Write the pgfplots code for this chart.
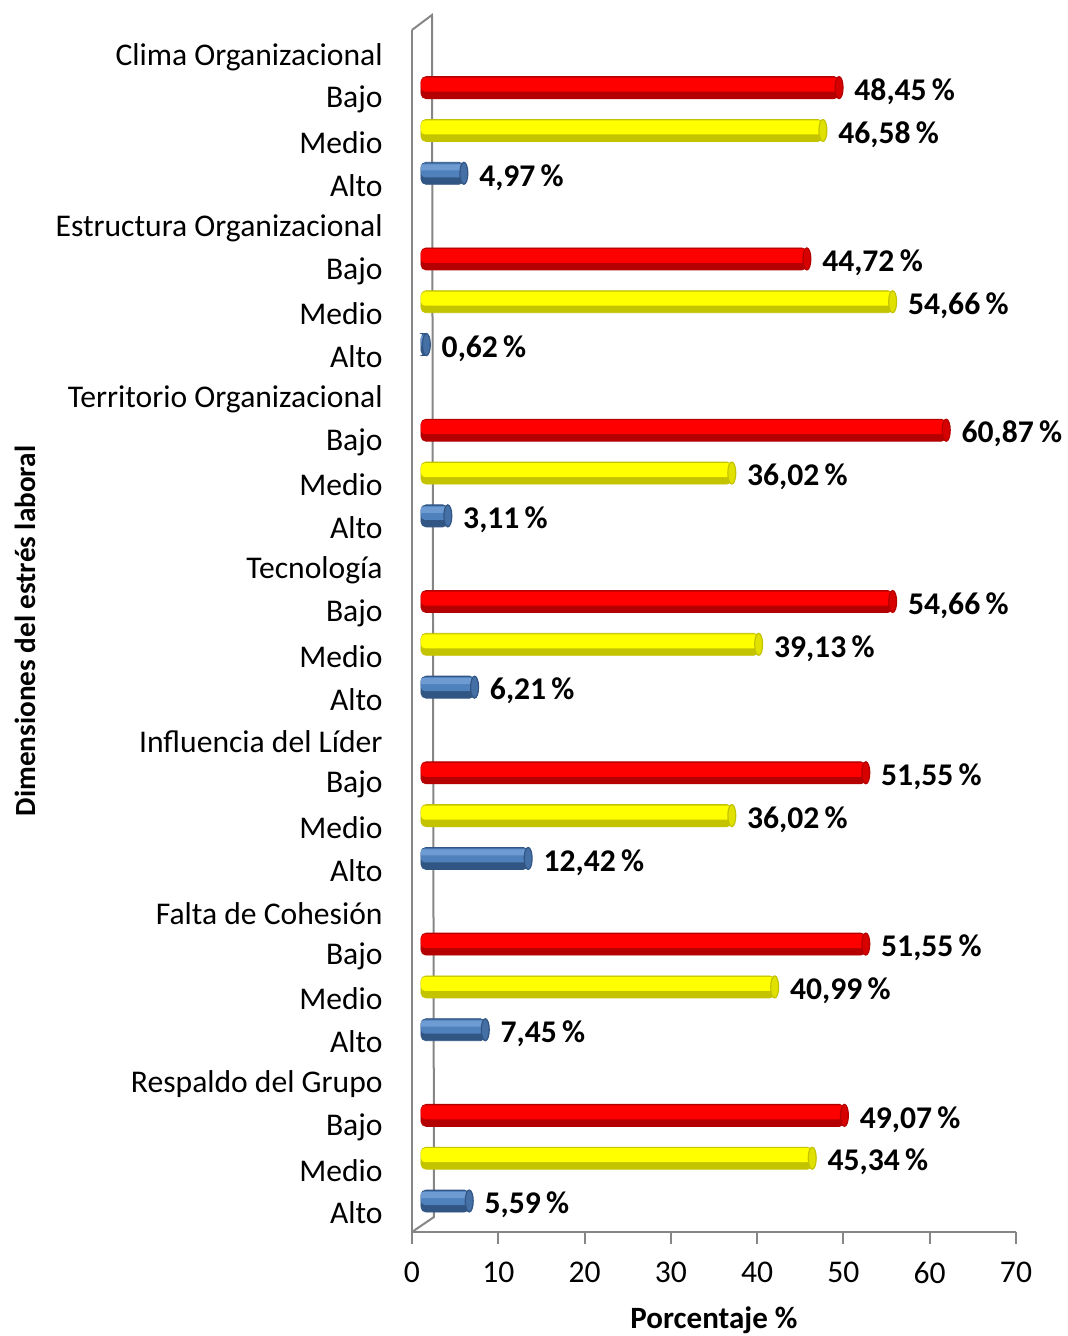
\documentclass[border=0pt]{standalone}
\usepackage{fontspec}
\setmainfont{Carlito}
\usepackage{pgfplots}
\pgfplotsset{compat=1.18}
\usetikzlibrary{calc}

\definecolor{axgray}{RGB}{134,134,134}
\definecolor{redmid}{RGB}{255,0,0}
\definecolor{redbot}{RGB}{180,0,0}
\definecolor{redcap}{RGB}{215,0,0}
\definecolor{yelmid}{RGB}{255,255,0}
\definecolor{yelbot}{RGB}{195,195,0}
\definecolor{yelcap}{RGB}{225,225,0}
\definecolor{blutop}{RGB}{110,156,210}
\definecolor{blumid}{RGB}{79,129,189}
\definecolor{blubot}{RGB}{50,86,132}
\definecolor{blucap}{RGB}{68,112,166}

\newcommand{\lblfont}{\fontsize{15.8}{18}\selectfont}

\pgfplotsset{
  cyl/.style={xbar, bar width=11pt, bar shift=0pt, xshift=4.5pt, yshift=5pt, rounded corners=2.5pt},
  cylmid/.style={xbar, bar width=7pt, bar shift=1.5pt, xshift=4.5pt, yshift=5pt, rounded corners=2pt, draw=none},
  cyltop/.style={xbar, bar width=3pt, bar shift=3pt, xshift=4.5pt, yshift=5pt, draw=none},
  cap/.style 2 args={only marks, mark=*, mark size=5.5pt, xshift=4.5pt, yshift=5pt,
              mark options={xscale=0.36, line width=0.6pt, fill=#1, draw=#2}},
  labels/.style={nodes near coords={\pgfmathprintnumber[fixed, fixed zerofill, precision=2, use comma]{\pgfplotspointmeta}\,\%}},
}

\begin{document}
\begin{tikzpicture}
\begin{axis}[
  name=ax,
  scale only axis,
  width=302pt, height=601pt,
  xmin=0, xmax=70,
  ymin=0.51, ymax=28.58,
  axis x line*=bottom, axis y line*=left,
  axis line style={axgray, line width=1pt},
  tick align=outside,
  major tick length=6pt,
  xtick={0,10,...,70},
  xtick style={axgray, line width=1pt},
  ytick={1,...,28},
  ytick style={draw=none},
  yticklabels={Alto, Medio, Bajo, Respaldo del Grupo,
               Alto, Medio, Bajo, Falta de Cohesión,
               Alto, Medio, Bajo, Influencia del Líder,
               Alto, Medio, Bajo, Tecnología,
               Alto, Medio, Bajo, Territorio Organizacional,
               Alto, Medio, Bajo, Estructura Organizacional,
               Alto, Medio, Bajo, Clima Organizacional},
  /pgf/number format/assume math mode=true,
  ticklabel style={font=\lblfont, text=black},
  yticklabel style={inner sep=0pt, xshift=-8.5pt, yshift=-1pt},
  xticklabel style={inner sep=0pt, yshift=-9pt},
  xlabel={Porcentaje \%},
  ylabel={Dimensiones del estrés laboral},
  every axis x label/.style={at={(axis description cs:0.5,0)}, anchor=center, yshift=-44pt, font=\fontsize{15.5}{18}\selectfont\bfseries},
  every axis y label/.style={at={(axis description cs:0,0.5)}, anchor=center, xshift=-193.5pt, rotate=90, font=\fontsize{14.6}{17}\selectfont\bfseries},
  every node near coord/.append style={anchor=west, inner sep=0pt, xshift=7.5pt, yshift=-2pt, font=\lblfont\bfseries, text=black},
  clip=false,
]
% back wall of the 3D frame, behind the bars
\draw[axgray, line width=1pt] (rel axis cs:0,1) -- ++(10pt,7.5pt)
  -- ([shift={(11pt,7.5pt)}]rel axis cs:0,0) -- (rel axis cs:0,0);
% Bajo
\addplot[cyl, labels, draw=redbot, fill=redbot]
  coordinates {(48.45,27) (44.72,23) (60.87,19) (54.66,15) (51.55,11) (51.55,7) (49.07,3)};
\addplot[cylmid, fill=redmid]
  coordinates {(48.45,27) (44.72,23) (60.87,19) (54.66,15) (51.55,11) (51.55,7) (49.07,3)};
\addplot[cap={redcap}{redbot}]
  coordinates {(48.45,27) (44.72,23) (60.87,19) (54.66,15) (51.55,11) (51.55,7) (49.07,3)};
% Medio
\addplot[cyl, labels, draw=yelbot, fill=yelbot]
  coordinates {(46.58,26) (54.66,22) (36.02,18) (39.13,14) (36.02,10) (40.99,6) (45.34,2)};
\addplot[cylmid, fill=yelmid]
  coordinates {(46.58,26) (54.66,22) (36.02,18) (39.13,14) (36.02,10) (40.99,6) (45.34,2)};
\addplot[cap={yelcap}{yelbot}]
  coordinates {(46.58,26) (54.66,22) (36.02,18) (39.13,14) (36.02,10) (40.99,6) (45.34,2)};
% Alto
\addplot[cyl, labels, draw=blubot, fill=blubot]
  coordinates {(4.97,25) (0.62,21) (3.11,17) (6.21,13) (12.42,9) (7.45,5) (5.59,1)};
\addplot[cylmid, fill=blumid]
  coordinates {(4.97,25) (0.62,21) (3.11,17) (6.21,13) (12.42,9) (7.45,5) (5.59,1)};
\addplot[cyltop, fill=blutop]
  coordinates {(4.97,25) (0.62,21) (3.11,17) (6.21,13) (12.42,9) (7.45,5) (5.59,1)};
\addplot[cap={blucap}{blubot}]
  coordinates {(4.97,25) (0.62,21) (3.11,17) (6.21,13) (12.42,9) (7.45,5) (5.59,1)};
\end{axis}
\pgfresetboundingbox
\path[use as bounding box] ($(ax.south west)+(-206pt,-52pt)$) rectangle ($(ax.south west)+(328pt,616pt)$);
\end{tikzpicture}
\end{document}
